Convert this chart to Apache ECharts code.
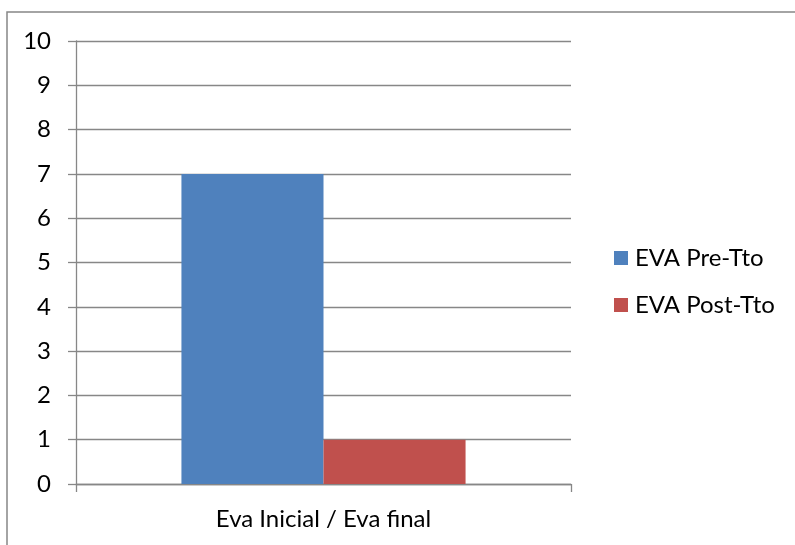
<!DOCTYPE html>
<html>
<head>
<meta charset="utf-8">
<script src="https://cdn.jsdelivr.net/npm/echarts@6/dist/echarts.min.js"></script>
<style>
  html, body { margin: 0; padding: 0; background: #fff; }
  #chart { width: 795px; height: 545px; }
</style>
</head>
<body>
<div id="chart"></div>
<script>
// Pain score (EVA) before and after treatment
const categories = ['Eva Inicial / Eva final'];
const seriesNames = ['EVA Pre-Tto', 'EVA Post-Tto'];
const preValues = [7];
const postValues = [1];
const yTicks = { min: 0, max: 10, interval: 1 };

const FONT = 'Lato';
const FONT_SIZE = 24;
const GRAY = '#878787';

const chart = echarts.init(document.getElementById('chart'), null, { renderer: 'canvas' });
chart.setOption({
  animation: false,
  textStyle: { fontFamily: FONT },
  graphic: [{
    type: 'rect',
    shape: { x: 7, y: 12, width: 820, height: 600 },
    style: { fill: 'none', stroke: GRAY, lineWidth: 1.5 },
    silent: true
  }],
  grid: { left: 76, right: 224, top: 41, bottom: 61 },
  legend: {
    orient: 'vertical',
    left: 609,
    top: 241,
    icon: 'rect',
    itemWidth: 14,
    itemHeight: 14,
    itemGap: 23,
    textStyle: { fontFamily: FONT, fontSize: FONT_SIZE, color: '#000', padding: [0, 0, 0, 2] },
    data: seriesNames
  },
  xAxis: {
    type: 'category',
    data: categories,
    axisLine: { lineStyle: { color: GRAY, width: 1.3 } },
    axisTick: { show: true, length: 8, lineStyle: { color: GRAY, width: 1.3 } },
    axisLabel: { margin: 23, fontFamily: FONT, fontSize: FONT_SIZE, color: '#000' }
  },
  yAxis: {
    type: 'value',
    min: yTicks.min,
    max: yTicks.max,
    interval: yTicks.interval,
    axisLine: { show: true, lineStyle: { color: GRAY, width: 1.3 } },
    axisTick: { show: true, length: 8, lineStyle: { color: GRAY, width: 1.3 } },
    splitLine: { lineStyle: { color: GRAY, width: 1.3 } },
    axisLabel: { margin: 25, fontFamily: FONT, fontSize: FONT_SIZE, color: '#000' }
  },
  series: [
    {
      name: seriesNames[0],
      type: 'bar',
      data: preValues,
      barGap: '0%',
      barCategoryGap: '42.6%',
      itemStyle: { color: '#4F81BD' }
    },
    {
      name: seriesNames[1],
      type: 'bar',
      data: postValues,
      barGap: '0%',
      barCategoryGap: '42.6%',
      itemStyle: { color: '#C0504D' }
    }
  ]
});
</script>
</body>
</html>
